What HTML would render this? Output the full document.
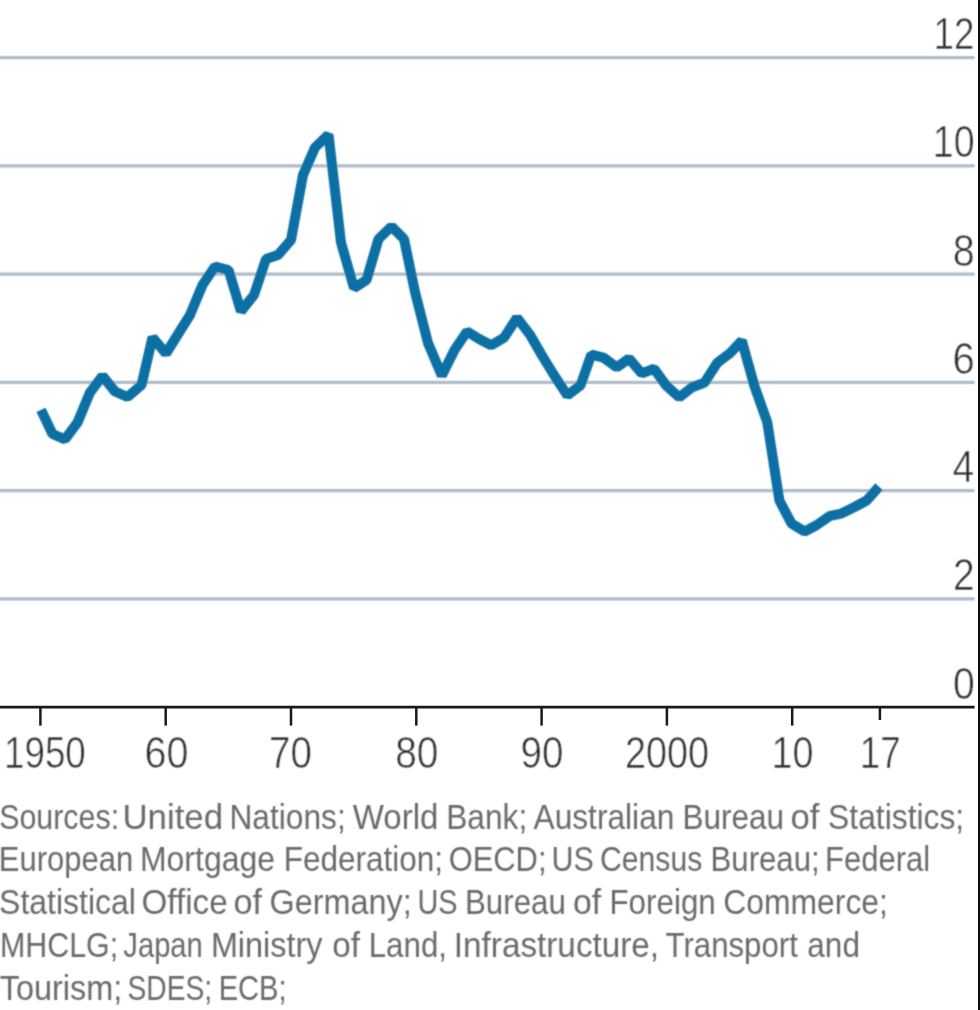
<!DOCTYPE html>
<html lang="en"><head><meta charset="utf-8"><title>Chart</title>
<style>
html,body{margin:0;padding:0;background:#fff;}
body{width:980px;height:1010px;overflow:hidden;}
svg{display:block;}
text{font-family:"Liberation Sans",sans-serif;}
.ax{font-size:44px;fill:#2a2a2a;stroke:#fff;stroke-width:0.5px;}
.src{font-size:34.2px;fill:#686b6e;}
</style></head><body>
<svg width="980" height="1010" viewBox="0 0 980 1010">
<rect width="980" height="1010" fill="#fff"/>
<defs><filter id="soft" x="-5%" y="-5%" width="110%" height="110%"><feConvolveMatrix order="3" kernelMatrix="0.04 0.12 0.04 0.12 0.36 0.12 0.04 0.12 0.04" divisor="1" edgeMode="duplicate" preserveAlpha="false"/></filter></defs>
<g id="chart" filter="url(#soft)">
<line x1="-10" y1="57.6" x2="974.6" y2="57.6" stroke="#adbdc9" stroke-width="3.3"/>
<line x1="-10" y1="165.85" x2="974.6" y2="165.85" stroke="#adbdc9" stroke-width="3.3"/>
<line x1="-10" y1="274.1" x2="974.6" y2="274.1" stroke="#adbdc9" stroke-width="3.3"/>
<line x1="-10" y1="382.35" x2="974.6" y2="382.35" stroke="#adbdc9" stroke-width="3.3"/>
<line x1="-10" y1="490.6" x2="974.6" y2="490.6" stroke="#adbdc9" stroke-width="3.3"/>
<line x1="-10" y1="598.85" x2="974.6" y2="598.85" stroke="#adbdc9" stroke-width="3.3"/>
<polyline points="41,409.8 52.5,434 65,439.3 77.5,422.5 90,392.5 102.5,376 115,391.5 127.5,397 141.5,385 152.5,337.5 166,353.5 177.5,335 190,315 202.5,285 215,266.5 228.5,270 241,311.3 254,295 266,259 278,255 291,240 303,175 315,147.5 328.5,134.5 341,242.5 354,288 366.5,280 378.5,239 391.5,226.5 404,239 415,292 428,343 441.8,375.5 454.5,350 467,331.5 479.6,339.3 491.2,345.3 504,337.7 517,317.8 530,334.7 542.3,356 554.6,376 567.4,395.4 580.6,385.2 591.3,354.6 603.5,357.6 616.7,367.3 629,358.6 641.8,373.4 654,368.8 666.2,385.5 679.3,397.4 692.2,387.2 704.5,382.6 717.3,362.7 729.6,353.6 741.8,340.7 754.3,385.7 767.3,422.4 779.4,500.5 791.4,523.4 804.6,531.6 816.8,525 830,515.8 841.3,513.6 853.6,507.5 866.7,500.5 879,486.7" fill="none" stroke="#0f70a4" stroke-width="10" stroke-linejoin="bevel" stroke-linecap="butt"/>
<text class="ax" transform="translate(933.58,49.05) scale(0.8368,1)">12</text>
<text class="ax" transform="translate(932.82,157.3) scale(0.8545,1)">10</text>
<text class="ax" transform="translate(952.70,265.55) scale(0.8976,1)">8</text>
<text class="ax" transform="translate(952.46,373.8) scale(0.9086,1)">6</text>
<text class="ax" transform="translate(952.61,482.05) scale(0.8854,1)">4</text>
<text class="ax" transform="translate(953.01,590.3) scale(0.8850,1)">2</text>
<text class="ax" transform="translate(952.94,698.55) scale(0.8905,1)">0</text>
<text class="ax" transform="translate(3.98,768.3) scale(0.8366,1)">1950</text>
<text class="ax" transform="translate(144.48,768.3) scale(0.8978,1)">60</text>
<text class="ax" transform="translate(268.92,768.3) scale(0.8778,1)">70</text>
<text class="ax" transform="translate(395.13,768.3) scale(0.8840,1)">80</text>
<text class="ax" transform="translate(520.45,768.3) scale(0.8773,1)">90</text>
<text class="ax" transform="translate(624.97,768.3) scale(0.8596,1)">2000</text>
<text class="ax" transform="translate(771.61,768.3) scale(0.8591,1)">10</text>
<text class="ax" transform="translate(859.79,768.3) scale(0.8345,1)">17</text>
<text class="src" transform="translate(-0.83,829.2) scale(0.8891,1)">Sources:</text>
<text class="src" transform="translate(122.45,829.2) scale(1.0186,1)">United</text>
<text class="src" transform="translate(229.45,829.2) scale(0.9269,1)">Nations;</text>
<text class="src" transform="translate(352.76,829.2) scale(0.9652,1)">World</text>
<text class="src" transform="translate(446.20,829.2) scale(0.9266,1)">Bank;</text>
<text class="src" transform="translate(533.52,829.2) scale(0.9265,1)">Australian</text>
<text class="src" transform="translate(682.47,829.2) scale(0.9216,1)">Bureau</text>
<text class="src" transform="translate(790.47,829.2) scale(1.0185,1)">of</text>
<text class="src" transform="translate(828.11,829.2) scale(0.9298,1)">Statistics;</text>
<text class="src" transform="translate(-1.24,871.3) scale(0.9063,1)">European</text>
<text class="src" transform="translate(139.93,871.3) scale(0.9358,1)">Mortgage</text>
<text class="src" transform="translate(283.72,871.3) scale(0.9211,1)">Federation;</text>
<text class="src" transform="translate(448.64,871.3) scale(0.9036,1)">OECD;</text>
<text class="src" transform="translate(551.52,871.3) scale(0.8908,1)">US</text>
<text class="src" transform="translate(599.96,871.3) scale(0.8827,1)">Census</text>
<text class="src" transform="translate(710.49,871.3) scale(0.9123,1)">Bureau;</text>
<text class="src" transform="translate(825.01,871.3) scale(0.9063,1)">Federal</text>
<text class="src" transform="translate(-0.90,914.2) scale(0.9351,1)">Statistical</text>
<text class="src" transform="translate(141.54,914.2) scale(0.9714,1)">Office</text>
<text class="src" transform="translate(233.50,914.2) scale(1.0000,1)">of</text>
<text class="src" transform="translate(269.59,914.2) scale(0.9466,1)">Germany;</text>
<text class="src" transform="translate(417.39,914.2) scale(0.8448,1)">US</text>
<text class="src" transform="translate(464.99,914.2) scale(0.9145,1)">Bureau</text>
<text class="src" transform="translate(573.01,914.2) scale(0.9907,1)">of</text>
<text class="src" transform="translate(609.48,914.2) scale(0.9167,1)">Foreign</text>
<text class="src" transform="translate(723.37,914.2) scale(0.9314,1)">Commerce;</text>
<text class="src" transform="translate(0.06,957.3) scale(0.8880,1)">MHCLG;</text>
<text class="src" transform="translate(123.32,957.3) scale(0.8536,1)">Japan</text>
<text class="src" transform="translate(210.89,957.3) scale(0.9478,1)">Ministry</text>
<text class="src" transform="translate(332.29,957.3) scale(0.9722,1)">of</text>
<text class="src" transform="translate(368.73,957.3) scale(0.9147,1)">Land,</text>
<text class="src" transform="translate(453.84,957.3) scale(0.9731,1)">Infrastructure,</text>
<text class="src" transform="translate(665.57,957.3) scale(0.9115,1)">Transport</text>
<text class="src" transform="translate(807.37,957.3) scale(0.9206,1)">and</text>
<text class="src" transform="translate(-0.21,1000) scale(0.9482,1)">Tourism;</text>
<text class="src" transform="translate(127.51,1000) scale(0.8240,1)">SDES;</text>
<text class="src" transform="translate(218.66,1000) scale(0.8514,1)">ECB;</text>
</g>
<g id="axes">
<line x1="-10" y1="707.15" x2="974.6" y2="707.15" stroke="#1a1a1a" stroke-width="2.6"/>
<line x1="40.4" y1="707.15" x2="40.4" y2="725.6" stroke="#1a1a1a" stroke-width="2.5"/>
<line x1="165.7" y1="707.15" x2="165.7" y2="725.6" stroke="#1a1a1a" stroke-width="2.5"/>
<line x1="291.0" y1="707.15" x2="291.0" y2="725.6" stroke="#1a1a1a" stroke-width="2.5"/>
<line x1="416.3" y1="707.15" x2="416.3" y2="725.6" stroke="#1a1a1a" stroke-width="2.5"/>
<line x1="541.6" y1="707.15" x2="541.6" y2="725.6" stroke="#1a1a1a" stroke-width="2.5"/>
<line x1="666.9" y1="707.15" x2="666.9" y2="725.6" stroke="#1a1a1a" stroke-width="2.5"/>
<line x1="792.2" y1="707.15" x2="792.2" y2="725.6" stroke="#1a1a1a" stroke-width="2.5"/>
<line x1="879.91" y1="707.15" x2="879.91" y2="720.0" stroke="#1a1a1a" stroke-width="2.5"/>
<rect x="978.0" y="-10" width="12" height="1030" fill="#111"/>
</g></svg></body></html>
